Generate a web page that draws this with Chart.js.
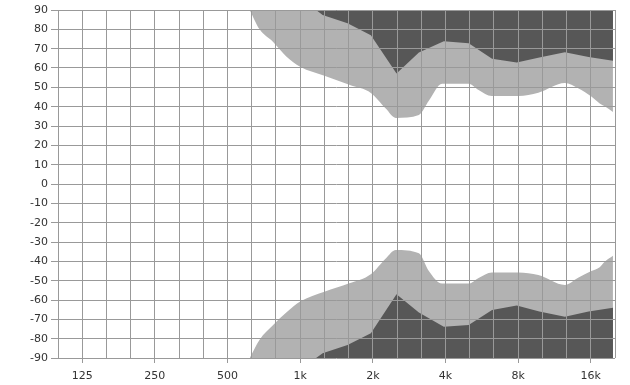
<!DOCTYPE html>
<html>
<head>
<meta charset="utf-8">
<script src="https://cdn.jsdelivr.net/npm/chart.js@4/dist/chart.umd.min.js"></script>
<style>
  html, body { margin: 0; padding: 0; background: #fff; }
  #wrap { width: 630px; height: 385px; }
</style>
</head>
<body>
<div id="wrap"><canvas id="graph" width="630" height="385"></canvas></div>
<script>
// octave ticks along the frequency axis
const tickFreqs = [125, 250, 500, 1000, 2000, 4000, 8000, 16000]
const tickLabels = ['125', '250', '500', '1k', '2k', '4k', '8k', '16k']

// inner (light grey) boundary, upper and lower
const lightFreqs = [618, 679, 771, 876, 1000, 1260, 1597, 1968, 2263, 2488, 3104, 3413, 3872, 4990, 5487, 6226, 8022, 9700, 12500, 14180, 16090, 17420, 18270, 19770]
const lightTop = [90, 80, 73.6, 66, 60.7, 56, 51.3, 47, 39, 34.2, 35.7, 43, 51.8, 51.8, 48.6, 45.5, 45.5, 47.2, 52.2, 49.5, 45.2, 41.7, 40.2, 37.2]
const lightBottom = [-90, -80.5, -73, -66.5, -60.8, -55.7, -51.4, -46.5, -38.5, -34.1, -35.8, -45, -51.5, -51.5, -48.6, -45.8, -45.8, -47.1, -52.2, -48.5, -45, -43, -40.2, -37.1]

// outer (dark grey) boundary, upper and lower
const darkFreqs = [1164, 1239, 1571, 1963, 2507, 3104, 3936, 4990, 6239, 7894, 9794, 12500, 15670, 19770]
const darkTop = [90, 87.4, 83.1, 77, 57.1, 68, 73.8, 72.8, 64.8, 62.8, 65.4, 68.1, 65.7, 63.8]
const darkBottom = [-90, -87.6, -83.3, -77.2, -57, -66.5, -73.8, -72.9, -65.2, -62.9, -66, -68.6, -66, -64]

const lightGrey = '#b2b2b2'
const darkGrey = '#575757'
const gridGrey = '#999999'

// third-octave grid lines, 1/3 octave below 125 up to 1/3 octave above 16k
let gridFreqs = []
for (let k = -10; k <= 13; k++) gridFreqs.push(1000 * Math.pow(2, k / 3))

function points(freqs, values) {
  return freqs.map((f, i) => ({ x: f, y: values[i] }))
}

function labelFor(value) {
  let i = tickFreqs.findIndex(f => Math.abs(Math.log2(value / f)) < 0.01)
  return i >= 0 ? tickLabels[i] : ''
}

Chart.defaults.font.family = 'DejaVu Sans'
Chart.defaults.font.size = 11
Chart.defaults.color = '#333'

const graph = new Chart(document.getElementById('graph'), {
  type: 'line',
  data: {
    datasets: [
      { data: points(darkFreqs, darkTop), fill: 'end', backgroundColor: darkGrey, order: 0, tension: 0 },
      { data: points(darkFreqs, darkBottom), fill: 'start', backgroundColor: darkGrey, order: 0, tension: 0 },
      { data: points(lightFreqs, lightTop), fill: 'end', backgroundColor: lightGrey, order: 1, cubicInterpolationMode: 'monotone' },
      { data: points(lightFreqs, lightBottom), fill: 'start', backgroundColor: lightGrey, order: 1, cubicInterpolationMode: 'monotone' }
    ]
  },
  options: {
    responsive: false,
    animation: false,
    layout: { padding: { top: 10, right: 15, left: 0, bottom: 0 } },
    elements: {
      point: { radius: 0 },
      line: { borderWidth: 0, borderColor: 'rgba(0,0,0,0)' }
    },
    plugins: {
      legend: { display: false },
      tooltip: { enabled: false }
    },
    scales: {
      x: {
        type: 'logarithmic',
        min: gridFreqs[0],
        max: gridFreqs[gridFreqs.length - 1],
        afterBuildTicks: scale => {
          scale.ticks = gridFreqs.map(v => ({ value: v }))
        },
        afterFit: scale => { scale.height = 27 },
        grid: {
          z: 1,
          color: gridGrey,
          lineWidth: 1,
          tickLength: 5,
          tickColor: ctx => labelFor(ctx.tick.value) ? gridGrey : 'rgba(0,0,0,0)'
        },
        border: { display: false },
        ticks: {
          autoSkip: false,
          maxRotation: 0,
          padding: 7,
          callback: value => labelFor(value)
        }
      },
      y: {
        min: -90,
        max: 90,
        afterFit: scale => { scale.width = 58 },
        grid: {
          z: 1,
          color: gridGrey,
          lineWidth: 1,
          tickLength: 7
        },
        border: { display: false },
        ticks: {
          stepSize: 10,
          padding: 3
        }
      }
    }
  }
})
</script>
</body>
</html>
